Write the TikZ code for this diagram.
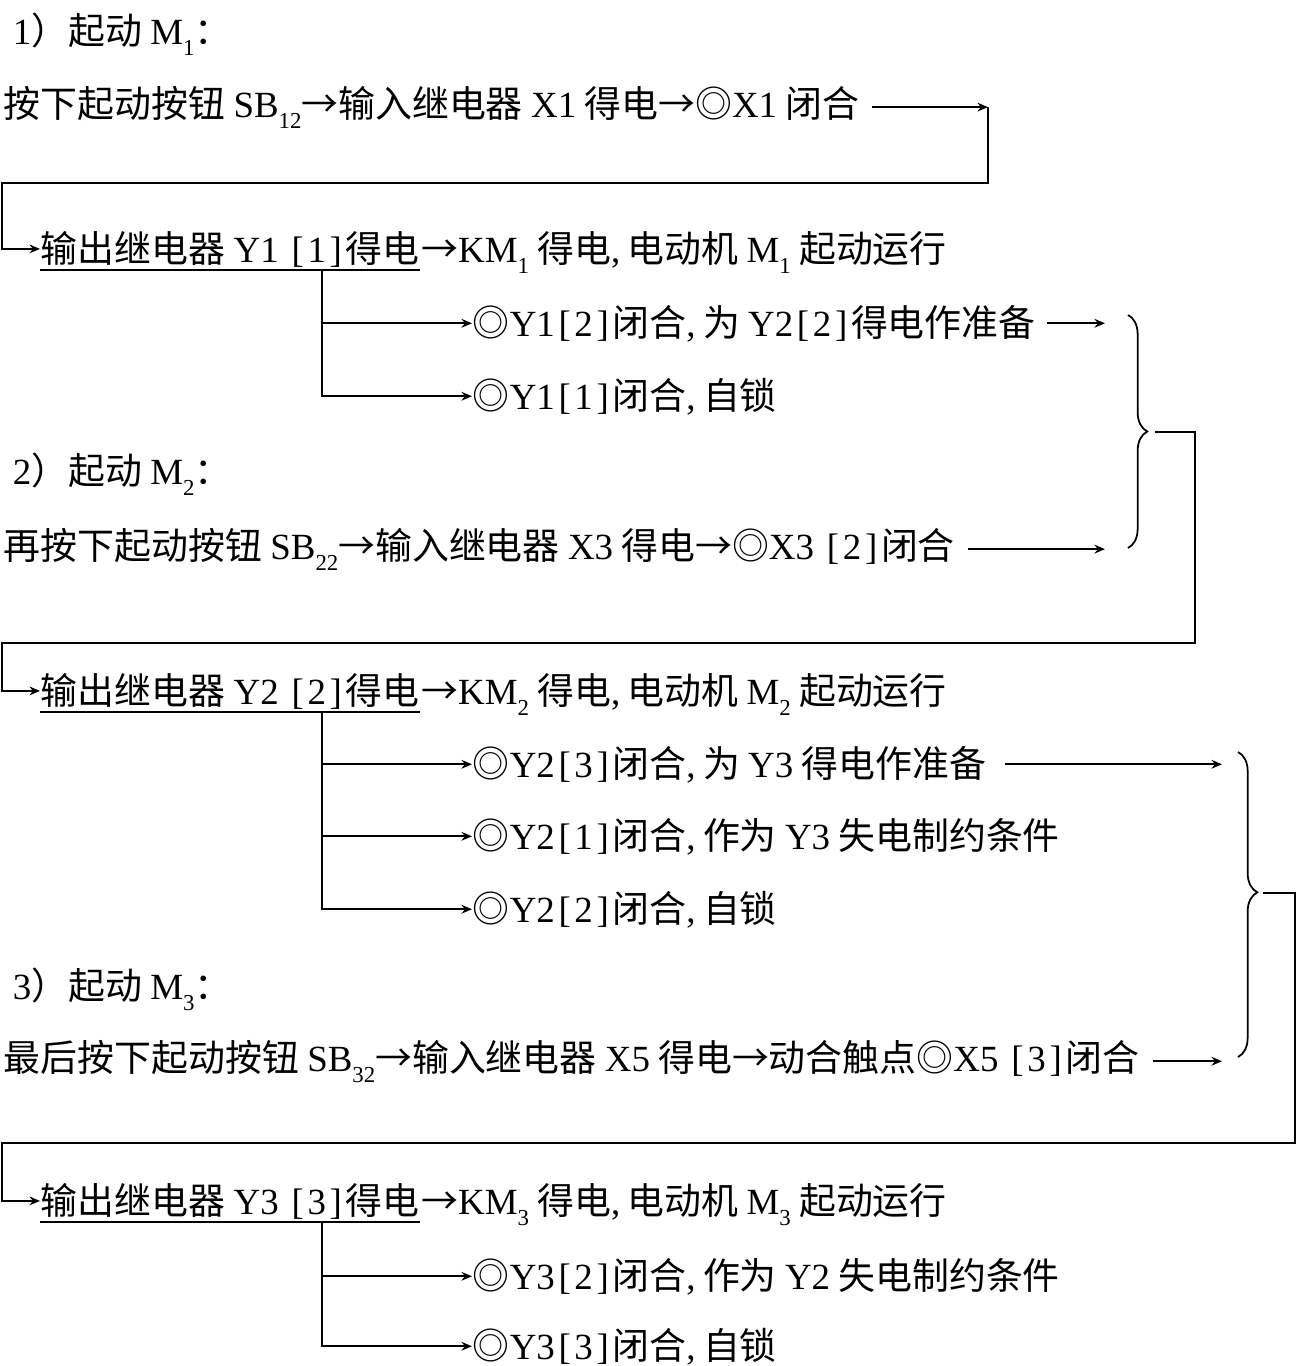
\documentclass[tikz,border=0pt]{standalone}
\usepackage{fontspec}
\setmainfont{Noto Sans CJK SC}
\newfontfamily\lat{Liberation Serif}
\usetikzlibrary{arrows.meta,decorations.pathreplacing}
\newcommand{\subn}[1]{\raisebox{-6.5pt}{\lat\fontsize{13}{13}\selectfont #1}}
\newcommand{\bk}[1]{{\lat\kern0.1em[\kern0.1em#1\kern0.1em]\kern0.1em}}
\newcommand{\cm}{{\lat ,}\kern0.2em}

\begin{document}
\begin{tikzpicture}[x=0.02cm, y=-0.02cm, line width=1pt,
  font=\fontsize{21}{25}\selectfont,
  >={Stealth[length=6pt,width=5pt,inset=2pt]},
  txt/.style={anchor=base west, inner sep=0pt},
  rbrace/.style={decorate, decoration={brace, amplitude=11pt, aspect=#1}}]
\useasboundingbox (0,0) rectangle (1298,1366);
% Define the nodes
\node[txt] at (12,44) (h1) {{\lat 1}）起动 {\lat M}\subn{1}：};
\node[txt] at (3,117) (s1) {按下起动按钮 {\lat SB}\subn{12}→输入继电器 {\lat X1} 得电→◎{\lat X1} 闭合};
\node[txt] at (40,262) (y1) {输出继电器 {\lat Y1 }\bk{1}得电};
\node[txt] at (y1.base east) (k1) {→{\lat KM}\subn{1} 得电\cm 电动机 {\lat M}\subn{1} 起动运行};
\node[txt] at (472,336) (b11) {◎{\lat Y1}\bk{2}闭合\cm 为 {\lat Y2}\bk{2}得电作准备};
\node[txt] at (472,409) (b12) {◎{\lat Y1}\bk{1}闭合\cm 自锁};
\node[txt] at (12,484) (h2) {{\lat 2}）起动 {\lat M}\subn{2}：};
\node[txt] at (3,559) (s2) {再按下起动按钮 {\lat SB}\subn{22}→输入继电器 {\lat X3} 得电→◎{\lat X3 }\bk{2}闭合};
\node[txt] at (40,704) (y2) {输出继电器 {\lat Y2 }\bk{2}得电};
\node[txt] at (y2.base east) (k2) {→{\lat KM}\subn{2} 得电\cm 电动机 {\lat M}\subn{2} 起动运行};
\node[txt] at (472,777) (b21) {◎{\lat Y2}\bk{3}闭合\cm 为 {\lat Y3} 得电作准备};
\node[txt] at (472,849) (b22) {◎{\lat Y2}\bk{1}闭合\cm 作为 {\lat Y3} 失电制约条件};
\node[txt] at (472,922) (b23) {◎{\lat Y2}\bk{2}闭合\cm 自锁};
\node[txt] at (12,999) (h3) {{\lat 3}）起动 {\lat M}\subn{3}：};
\node[txt] at (3,1071) (s3) {最后按下起动按钮 {\lat SB}\subn{32}→输入继电器 {\lat X5} 得电→动合触点◎{\lat X5 }\bk{3}闭合};
\node[txt] at (40,1214) (y3) {输出继电器 {\lat Y3 }\bk{3}得电};
\node[txt] at (y3.base east) (k3) {→{\lat KM}\subn{3} 得电\cm 电动机 {\lat M}\subn{3} 起动运行};
\node[txt] at (472,1289) (b31) {◎{\lat Y3}\bk{2}闭合\cm 作为 {\lat Y2} 失电制约条件};
\node[txt] at (472,1359) (b32) {◎{\lat Y3}\bk{3}闭合\cm 自锁};
% Corner points
\coordinate (c1) at (988,0);
\coordinate (r1) at (2,183);
\coordinate (a1) at (1105,0);
\coordinate (g1a) at (1128,315);
\coordinate (g1b) at (1128,548);
\coordinate (tip1) at (1155,432);
\coordinate (e1) at (1195,643);
\coordinate (r2) at (2,643);
\coordinate (a2) at (1222,0);
\coordinate (g2a) at (1238,752);
\coordinate (g2b) at (1238,1057);
\coordinate (tip2) at (1263,893);
\coordinate (e2) at (1295,1143);
\coordinate (r3) at (2,1143);
\coordinate (u1) at ([yshift=-4.5pt]y1.base west);
\coordinate (u2) at ([yshift=-4.5pt]y2.base west);
\coordinate (u3) at ([yshift=-4.5pt]y3.base west);
% Draw the paths
\draw[->] ([xshift=7pt]s1.east) -- (s1.east -| c1);
\draw[->] (s1.east -| c1) |- (r1) |- (y1.west);
\draw (u1) -- ([yshift=-4.5pt]y1.base east);
\draw[->] (u1 -| 322,0) |- (b11.west);
\draw[->] (u1 -| 322,0) |- (b12.west);
\draw[->] ([xshift=6pt]b11.east) -- (b11.east -| a1);
\draw[->] ([xshift=7pt]s2.east) -- (s2.east -| a1);
\draw[rbrace=0.5] (g1a) -- (g1b);
\draw[->] (tip1) -| (e1) -- (r2) |- (y2.west);
\draw (u2) -- ([yshift=-4.5pt]y2.base east);
\draw[->] (u2 -| 322,0) |- (b21.west);
\draw[->] (u2 -| 322,0) |- (b22.west);
\draw[->] (u2 -| 322,0) |- (b23.west);
\draw[->] ([xshift=10pt]b21.east) -- (b21.east -| a2);
\draw[->] ([xshift=7pt]s3.east) -- (s3.east -| a2);
\draw[rbrace=0.46] (g2a) -- (g2b);
\draw[->] (tip2) -| (e2) -- (r3) |- (y3.west);
\draw (u3) -- ([yshift=-4.5pt]y3.base east);
\draw[->] (u3 -| 322,0) |- (b31.west);
\draw[->] (u3 -| 322,0) |- (b32.west);
\end{tikzpicture}
\end{document}
